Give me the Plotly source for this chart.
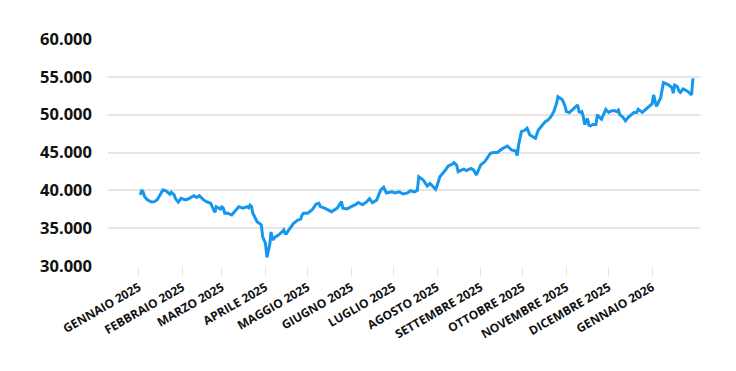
import plotly.graph_objects as go

# ---- data ----
dates = [
    "2025-01-02", "2025-01-03", "2025-01-04", "2025-01-05", "2025-01-07", "2025-01-10", "2025-01-12", "2025-01-14",
    "2025-01-16", "2025-01-18", "2025-01-20", "2025-01-21", "2025-01-23", "2025-01-24", "2025-01-26", "2025-01-27",
    "2025-01-29", "2025-01-31", "2025-02-03", "2025-02-05", "2025-02-06", "2025-02-09", "2025-02-11", "2025-02-13",
    "2025-02-16", "2025-02-18", "2025-02-21", "2025-02-23", "2025-02-24", "2025-02-25", "2025-02-26", "2025-02-28",
    "2025-03-01", "2025-03-02", "2025-03-03", "2025-03-05", "2025-03-08", "2025-03-10", "2025-03-13", "2025-03-16",
    "2025-03-19", "2025-03-20", "2025-03-21", "2025-03-22", "2025-03-23", "2025-03-26", "2025-03-28", "2025-03-29",
    "2025-03-30", "2025-04-01", "2025-04-02", "2025-04-03", "2025-04-04", "2025-04-05", "2025-04-06", "2025-04-08",
    "2025-04-10", "2025-04-13", "2025-04-14", "2025-04-15", "2025-04-16", "2025-04-17", "2025-04-19", "2025-04-21",
    "2025-04-24", "2025-04-26", "2025-04-27", "2025-04-28", "2025-05-01", "2025-05-03", "2025-05-04", "2025-05-05",
    "2025-05-07", "2025-05-09", "2025-05-10", "2025-05-13", "2025-05-17", "2025-05-18", "2025-05-22", "2025-05-25",
    "2025-05-26", "2025-05-29", "2025-06-01", "2025-06-04", "2025-06-06", "2025-06-09", "2025-06-12", "2025-06-14",
    "2025-06-16", "2025-06-19", "2025-06-22", "2025-06-24", "2025-06-26", "2025-06-30", "2025-07-02", "2025-07-05",
    "2025-07-08", "2025-07-11", "2025-07-13", "2025-07-16", "2025-07-18", "2025-07-19", "2025-07-22", "2025-07-25",
    "2025-07-27", "2025-07-31", "2025-08-01", "2025-08-03", "2025-08-07", "2025-08-09", "2025-08-12", "2025-08-13",
    "2025-08-15", "2025-08-16", "2025-08-20", "2025-08-22", "2025-08-25", "2025-08-27", "2025-08-29", "2025-09-01",
    "2025-09-04", "2025-09-08", "2025-09-10", "2025-09-13", "2025-09-16", "2025-09-20", "2025-09-23", "2025-09-26",
    "2025-09-27", "2025-09-28", "2025-09-30", "2025-10-02", "2025-10-04", "2025-10-06", "2025-10-10", "2025-10-12",
    "2025-10-15", "2025-10-17", "2025-10-19", "2025-10-21", "2025-10-23", "2025-10-25", "2025-10-26", "2025-10-29",
    "2025-10-30", "2025-10-31", "2025-11-01", "2025-11-03", "2025-11-05", "2025-11-07", "2025-11-09", "2025-11-10",
    "2025-11-11", "2025-11-12", "2025-11-13", "2025-11-14", "2025-11-16", "2025-11-17", "2025-11-18", "2025-11-20",
    "2025-11-22", "2025-11-23", "2025-11-24", "2025-11-26", "2025-11-29", "2025-12-01", "2025-12-03", "2025-12-05",
    "2025-12-07", "2025-12-08", "2025-12-09", "2025-12-11", "2025-12-13", "2025-12-15", "2025-12-18", "2025-12-19",
    "2025-12-21", "2025-12-22", "2025-12-25", "2025-12-28", "2026-01-01", "2026-01-02", "2026-01-04", "2026-01-07",
    "2026-01-09", "2026-01-12", "2026-01-13", "2026-01-15", "2026-01-16", "2026-01-17", "2026-01-19", "2026-01-20",
    "2026-01-21", "2026-01-23", "2026-01-26", "2026-01-28", "2026-01-29", "2026-01-30",
]
values = [
    39400, 40050, 39750, 39200, 38750, 38450, 38500, 38750,
    39390, 40050, 39950, 39820, 39480, 39740, 39390, 38900,
    38450, 38950, 38730, 38850, 38950, 39290, 39050, 39290,
    38730, 38500, 38290, 37630, 37100, 37840, 37700, 37540,
    37800, 37650, 36970, 37000, 36740, 37200, 37840, 37630,
    37840, 37700, 38060, 37900, 36970, 35860, 35650, 35450,
    33870, 33000, 31150, 31800, 32800, 34500, 33450, 33850,
    34050, 34530, 34760, 34300, 34300, 34600, 35200, 35640,
    36080, 36200, 36740, 36970, 36970, 37200, 37400, 37630,
    38200, 38290, 37850, 37650, 37300, 37180, 37650, 38500,
    37650, 37550, 37850, 38100, 38400, 38100, 38500, 38900,
    38350, 38700, 40050, 40400, 39650, 39800, 39650, 39800,
    39520, 39650, 39950, 39800, 40000, 41800, 41400, 40580,
    40900, 40140, 40600, 41800, 42690, 43220, 43480, 43660,
    43300, 42470, 42800, 42600, 42900, 42700, 42030, 43350,
    43800, 44900, 45000, 45000, 45450, 45860, 45330, 45200,
    44600, 46000, 47750, 47900, 48200, 47320, 46880, 47980,
    48640, 49080, 49300, 49740, 50400, 51500, 52380, 52000,
    51600, 51150, 50400, 50270, 50600, 51000, 51280, 50400,
    50300, 50400, 49740, 48700, 49500, 48600, 48510, 48700,
    48700, 50000, 49740, 49400, 50700, 50300, 50500, 50550,
    50400, 50600, 50000, 49700, 49200, 49650, 50200, 50300,
    50300, 50700, 50300, 50800, 51450, 52610, 51090, 52200,
    54240, 54000, 53900, 53600, 52830, 53900, 53700, 53100,
    52950, 53400, 53100, 52740, 52610, 54810,
]

month_ticks = [
    "2025-01-01", "2025-02-01", "2025-03-01", "2025-04-01", "2025-05-01", "2025-06-01", "2025-07-01",
    "2025-08-01", "2025-09-01", "2025-10-01", "2025-11-01", "2025-12-01", "2026-01-01",
]
month_labels = [
    "GENNAIO 2025", "FEBBRAIO 2025", "MARZO 2025", "APRILE 2025", "MAGGIO 2025", "GIUGNO 2025",
    "LUGLIO 2025", "AGOSTO 2025", "SETTEMBRE 2025", "OTTOBRE 2025", "NOVEMBRE 2025", "DICEMBRE 2025",
    "GENNAIO 2026",
]
y_ticks = [30000, 35000, 40000, 45000, 50000, 55000, 60000]
y_labels = ["30.000", "35.000", "40.000", "45.000", "50.000", "55.000", "60.000"]

fig = go.Figure()
fig.add_trace(go.Scatter(
    x=dates, y=values, mode="lines",
    line=dict(color="#1497ef", width=3),
    hoverinfo="x+y", showlegend=False,
))

# page body has an 8px default margin, so the figure is sized 8px smaller
fig.update_layout(
    width=728, height=363,
    margin=dict(l=100, r=36, t=31, b=105),
    paper_bgcolor="white", plot_bgcolor="white",
    font=dict(family="Open Sans, sans-serif", color="#111111"),
    xaxis=dict(
        range=["2024-12-10", "2026-02-04"],
        tickvals=month_ticks, ticktext=month_labels,
        tickangle=-30,
        tickfont=dict(size=12, family="Open Sans, sans-serif", weight="bold", color="#111111"),
        showgrid=False, zeroline=False, showline=False,
        ticks="outside", ticklen=9, tickcolor="#e3e3e3", tickwidth=1,
        automargin=False,
    ),
    yaxis=dict(
        range=[30000, 60000],
        tickvals=y_ticks, ticktext=y_labels,
        tickfont=dict(size=16.5, family="Open Sans, sans-serif", weight="bold", color="#111111"),
        showgrid=True, gridcolor="#e6e6e6", gridwidth=1.5,
        zeroline=False, showline=False, ticks="",
        ticklabelstandoff=15,
        automargin=False,
    ),
)

fig.write_html("out.html")
